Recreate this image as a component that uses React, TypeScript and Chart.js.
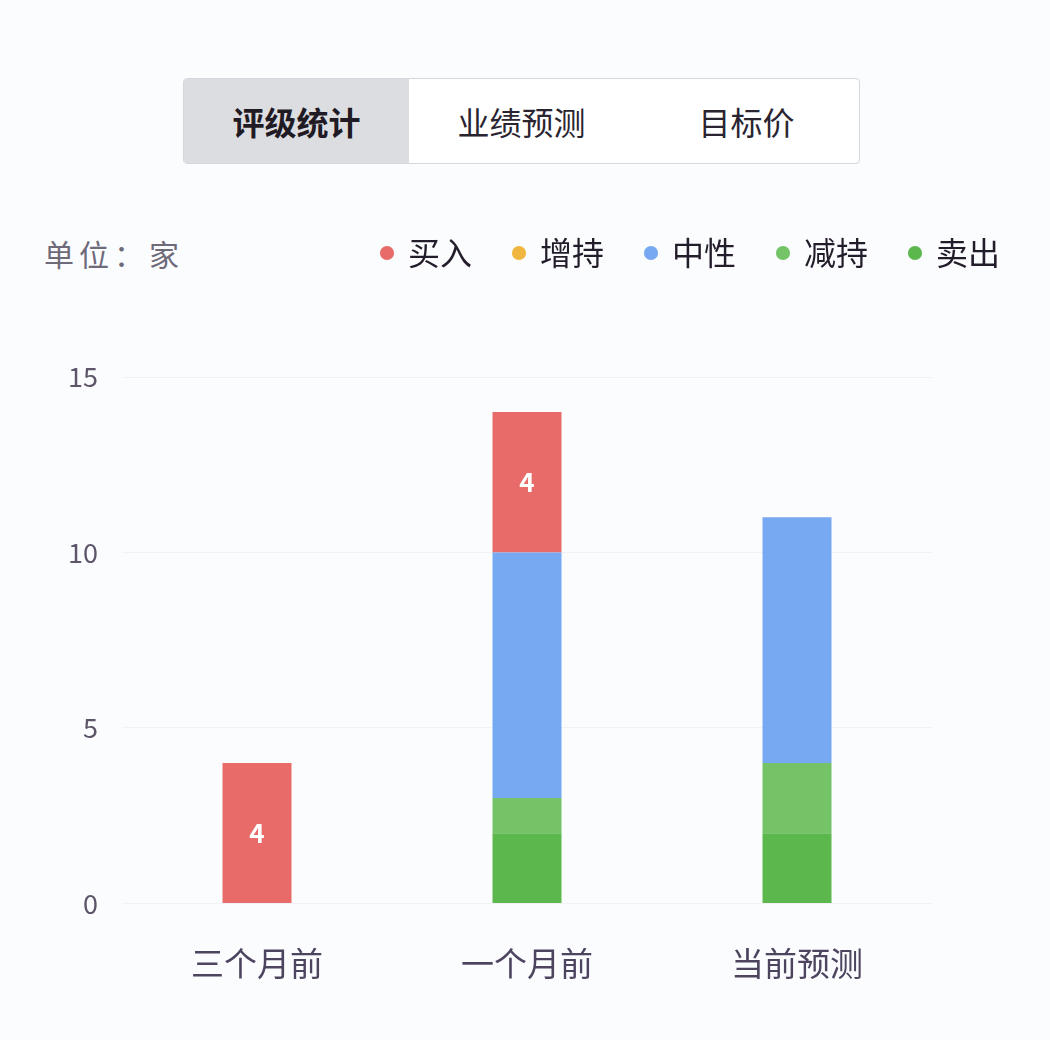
import React, { useEffect, useRef } from 'react';
import { Chart, registerables } from 'chart.js';
import type { Plugin } from 'chart.js';

Chart.register(...registerables);

const categories = ['三个月前', '一个月前', '当前预测'];
const sellValues = [0, 2, 2];
const underweightValues = [0, 1, 2];
const neutralValues = [0, 7, 7];
const overweightValues = [0, 0, 0];
const buyValues = [4, 4, 0];
const yTicks = [0, 5, 10, 15];
const tabs = ['评级统计', '业绩预测', '目标价'];

const FONT = '"Noto Sans CJK SC", "Noto Sans", sans-serif';

// push the plot down below the legend
const legendGap: Plugin = {
  id: 'legendGap',
  beforeInit(chart: any) {
    const legend = chart.legend;
    if (!legend) return;
    const fit = legend.fit;
    legend.fit = function () {
      fit.call(this);
      this.height += 98;
    };
  },
};

// white value text on the 买入 segments
const buyLabels: Plugin = {
  id: 'buyLabels',
  afterDatasetsDraw(chart) {
    const ctx = chart.ctx;
    chart.data.datasets.forEach((ds, i) => {
      if (ds.label !== '买入') return;
      const meta = chart.getDatasetMeta(i);
      meta.data.forEach((bar: any, j) => {
        const v = ds.data[j] as number;
        if (!v) return;
        const { x, y, base } = bar.getProps(['x', 'y', 'base'], true);
        ctx.save();
        ctx.fillStyle = '#ffffff';
        ctx.font = `bold 26px ${FONT}`;
        ctx.textAlign = 'center';
        ctx.textBaseline = 'middle';
        ctx.fillText(String(v), x, (y + base) / 2);
        ctx.restore();
      });
    });
  },
};

const RatingChart = () => {
  const canvasRef = useRef<HTMLCanvasElement>(null);

  useEffect(() => {
    if (!canvasRef.current) return;

    const chart = new Chart(canvasRef.current, {
      type: 'bar',
      data: {
        labels: categories,
        datasets: [
          { label: '卖出', data: sellValues, backgroundColor: '#5cb84c' },
          { label: '减持', data: underweightValues, backgroundColor: '#74c366' },
          { label: '中性', data: neutralValues, backgroundColor: '#76a9f1' },
          { label: '增持', data: overweightValues, backgroundColor: '#f1b63f' },
          { label: '买入', data: buyValues, backgroundColor: '#e86b6a' },
        ],
      },
      options: {
        animation: false,
        responsive: false,
        devicePixelRatio: 1,
        datasets: { bar: { barThickness: 69, inflateAmount: 0 } },
        layout: { padding: { top: 15, right: 8, bottom: 0, left: 0 } },
        plugins: {
          tooltip: { enabled: false },
          legend: {
            position: 'top',
            align: 'end',
            reverse: true,
            labels: {
              usePointStyle: true,
              pointStyle: 'circle',
              boxWidth: 10,
              boxHeight: 10,
              padding: 42,
              color: '#231c2b',
              font: { family: FONT, size: 32 },
            },
          },
        },
        scales: {
          x: {
            stacked: true,
            grid: { display: false },
            border: { display: false },
            ticks: {
              padding: 32,
              color: '#4d4560',
              font: { family: FONT, size: 33 },
            },
          },
          y: {
            stacked: true,
            min: 0,
            max: 15,
            afterBuildTicks: (s: any) => {
              s.ticks = yTicks.map((v) => ({ value: v }));
            },
            afterFit: (s: any) => {
              s.width = 122;
            },
            grid: { color: '#f1f2f6', drawTicks: false },
            border: { display: false },
            ticks: {
              padding: 24,
              color: '#5d566a',
              font: { family: FONT, size: 27 },
            },
          },
          yRight: {
            position: 'right',
            display: true,
            grid: { display: false },
            border: { display: false },
            ticks: { display: false },
            afterFit: (s: any) => {
              s.width = 110;
            },
          },
        },
      },
      plugins: [legendGap, buyLabels],
    });

    return () => {
      chart.destroy();
    };
  }, []);

  return (
    <canvas
      ref={canvasRef}
      width={1050}
      height={835}
      style={{ position: 'absolute', left: 0, top: 180, width: 1050, height: 835 }}
    />
  );
};

export default function App() {
  useEffect(() => {
    document.body.style.margin = '0';
    document.body.style.background = '#fbfcfe';
  }, []);

  return (
    <div
      style={{
        position: 'relative',
        width: 1050,
        height: 1040,
        background: '#fbfcfe',
        fontFamily: FONT,
        overflow: 'hidden',
      }}
    >
      <div
        style={{
          position: 'absolute',
          left: 183,
          top: 78,
          width: 675,
          height: 84,
          border: '1px solid #d3d7de',
          borderRadius: 4,
          display: 'flex',
          overflow: 'hidden',
          background: '#ffffff',
        }}
      >
        {tabs.map((t, i) => (
          <div
            key={t}
            style={{
              width: 225,
              flex: i === 0 ? 'none' : 1,
              display: 'flex',
              alignItems: 'center',
              justifyContent: 'center',
              fontSize: 32,
              fontWeight: i === 0 ? 'bold' : 'normal',
              color: i === 0 ? '#1f1a24' : '#2a2430',
              background: i === 0 ? '#dcdde1' : 'transparent',
            }}
          >
            {t}
          </div>
        ))}
      </div>
      <div
        style={{
          position: 'absolute',
          left: 44,
          top: 233,
          fontSize: 30,
          lineHeight: '40px',
          letterSpacing: 5,
          color: '#6f6a7a',
        }}
      >
        单位：家
      </div>
      <RatingChart />
    </div>
  );
}
